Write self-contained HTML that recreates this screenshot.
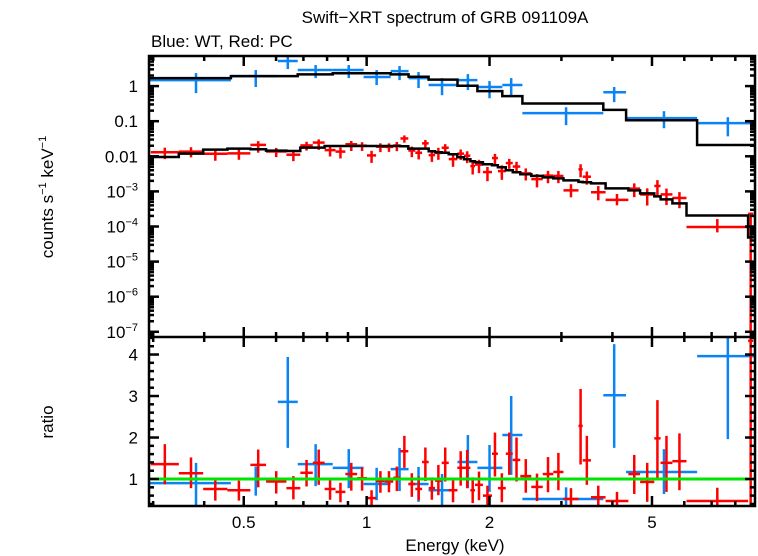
<!DOCTYPE html>
<html><head><meta charset="utf-8"><style>
html,body{margin:0;padding:0;background:#fff;}
svg{display:block;}
text{font-family:"Liberation Sans",sans-serif;fill:#000;}
</style></head><body>
<svg id="chart" width="758" height="556" viewBox="0 0 758 556" xmlns="http://www.w3.org/2000/svg">
<text x="445" y="23" font-size="17" text-anchor="middle">Swift−XRT spectrum of GRB 091109A</text>
<text x="151" y="47" font-size="17">Blue: WT, Red: PC</text>
<text transform="translate(53,197) rotate(-90)" font-size="17" text-anchor="middle">counts s<tspan font-size="11" dy="-7">−1</tspan><tspan dy="7"> keV</tspan><tspan font-size="11" dy="-7">−1</tspan></text>
<text transform="translate(53,422) rotate(-90)" font-size="17" text-anchor="middle">ratio</text>
<text x="455" y="551" font-size="17" text-anchor="middle">Energy (keV)</text>
<g id="marks"></g>
</svg>
<script>
// ---- data ----
// WT (blue) bins: energy edges (keV)
const wtLo = [0.293,0.465,0.606,0.678,0.826,0.983,1.145,1.267,1.418,1.669,1.868,2.150,2.407,3.80,4.32,6.45];
const wtHi = [0.465,0.606,0.678,0.826,0.983,1.145,1.267,1.418,1.669,1.868,2.150,2.407,3.80,4.32,6.45,9.04];
const wtCenter = [0.382,0.535,0.641,0.750,0.904,1.058,1.204,1.34,1.53,1.77,2.0,2.26,3.08,4.04,5.35,7.67];
const wtCounts = [1.48,1.93,5.18,2.87,2.87,1.81,2.68,1.69,1.07,1.48,0.94,1.07,0.17,0.67,0.122,0.088];
const wtCountsHi = [2.35,2.87,7.7,3.98,3.98,2.87,3.73,2.51,1.69,2.2,1.39,1.69,0.25,0.94,0.193,0.13];
const wtCountsLo = [0.63,0.94,3.06,1.69,1.69,1.07,1.48,0.88,0.55,0.77,0.45,0.55,0.077,0.35,0.063,0.037];
const wtModel = [1.69,1.93,1.93,2.16,2.31,2.31,2.16,1.84,1.53,1.02,0.72,0.52,0.32,0.21,0.107,0.021];
const wtRatio = [0.9,1.0,2.86,1.36,1.27,0.88,1.24,0.88,0.73,1.41,1.27,2.06,0.52,3.02,1.17,3.96];
const wtRatioHi = [1.39,1.3,3.94,1.84,1.72,1.27,1.75,1.29,1.12,2.06,1.82,3.0,0.8,4.25,1.72,4.6];
const wtRatioLo = [0.3,0.6,1.75,0.83,0.78,0.49,0.71,0.45,0.37,0.78,0.69,1.1,0.3,1.75,0.64,1.96];
// PC (red) bins
const pcEdges = [0.296,0.3467,0.3977,0.456,0.519,0.567,0.636,0.688,0.738,0.789,0.839,0.887,0.948,1.002,1.055,1.107,1.162,1.210,1.265,1.316,1.367,1.419,1.471,1.527,1.589,1.668,1.732,1.795,1.843,1.927,2.028,2.097,2.192,2.280,2.379,2.531,2.700,2.866,3.035,3.303,3.383,3.544,3.849,4.377,4.677,5.066,5.248,5.61,6.075,8.60,8.85];
const pcCounts = [0.0130,0.0136,0.0118,0.0121,0.0212,0.0137,0.0111,0.0204,0.0246,0.0150,0.0136,0.0220,0.0201,0.0106,0.0187,0.0185,0.0203,0.0322,0.0146,0.0126,0.0234,0.0108,0.0125,0.0175,0.00832,0.0119,0.0104,0.00526,0.00580,0.00355,0.00890,0.00378,0.00641,0.00510,0.00327,0.00224,0.00281,0.00275,0.00107,0.00426,0.00262,0.000946,0.000573,0.00120,0.000816,0.00143,0.00082,0.000649,0.0000968,0.00023];
const pcModel = [0.00955,0.01194,0.01553,0.0166,0.01585,0.01455,0.01417,0.01773,0.01773,0.01968,0.01968,0.01968,0.01968,0.01968,0.01968,0.01968,0.01968,0.0193,0.0166,0.0166,0.0166,0.0139,0.0130,0.01259,0.0114,0.00936,0.0082,0.0072,0.00674,0.00591,0.00553,0.00485,0.00398,0.00349,0.00306,0.00277,0.00251,0.00235,0.00206,0.00187,0.00181,0.00169,0.00122,0.00107,0.000877,0.00072,0.00059,0.000454,0.000206,0.0000485];
const pcRatio = [1.36,1.14,0.76,0.73,1.34,0.94,0.78,1.15,1.39,0.76,0.69,1.12,1.02,0.54,0.95,0.94,1.03,1.67,0.88,0.76,1.41,0.78,0.96,1.39,0.73,1.27,1.27,0.73,0.86,0.60,1.61,0.78,1.61,1.46,1.07,0.81,1.12,1.17,0.52,2.28,1.45,0.56,0.47,1.12,0.93,1.98,1.39,1.43,0.47,4.33];
const pcRatioHi = [1.84,1.52,1.02,0.96,1.71,1.19,1.07,1.46,1.71,1.0,0.91,1.39,1.28,0.73,1.19,1.19,1.30,2.04,1.14,1.06,1.76,1.04,1.34,1.76,0.98,1.67,1.70,1.04,1.18,0.84,2.12,1.14,2.12,2.0,1.48,1.13,1.53,1.63,0.78,3.17,2.04,0.84,0.69,1.58,1.39,2.90,2.04,2.10,0.79,4.6];
const pcRatioLo = [0.87,0.78,0.48,0.48,0.80,0.65,0.51,0.82,0.86,0.50,0.44,0.72,0.72,0.33,0.67,0.68,0.71,1.27,0.57,0.49,0.95,0.50,0.61,0.94,0.44,0.84,0.78,0.42,0.49,0.33,1.06,0.44,1.10,0.94,0.67,0.47,0.68,0.73,0.33,1.35,0.86,0.33,0.33,0.64,0.45,1.03,0.69,0.73,0.33,0.001];
const xTicksMajor = [0.5,1,2,5];
const xTickLabels = ["0.5","1","2","5"];
const xTicksMinor = [0.3,0.4,0.6,0.7,0.8,0.9,3,4,6,7,8];
const yTopExp = [0,-1,-2,-3,-4,-5,-6,-7];
const yTopLabels = ["1","0.1","0.01","10","10","10","10","10"];
const yRatioTicks = [1,2,3,4];

// ---- axes ----
const L=149, R=755, T=56, M=337, B=506;
const xMin=0.293, xMax=8.94;
const topMax=Math.log10(7.2), topMin=Math.log10(7.2)-(M-T)/35.1;
const rMin=0.35, rMax=0.35+(B-M)/41.5;
function X(e){return L+(Math.log10(e)-Math.log10(xMin))/(Math.log10(xMax)-Math.log10(xMin))*(R-L);}
function YT(v){v=Math.max(v,1e-12);let y=T+(topMax-Math.log10(v))/(topMax-topMin)*(M-T);return Math.min(Math.max(y,T),M);}
function YR(r){let y=B-(r-rMin)/(rMax-rMin)*(B-M);return Math.min(Math.max(y,M),B);}

const NS="http://www.w3.org/2000/svg";
const g=document.getElementById('marks');
function el(tag,attrs,parent){const e=document.createElementNS(NS,tag);for(const k in attrs)e.setAttribute(k,attrs[k]);(parent||g).appendChild(e);return e;}
function line(x1,y1,x2,y2,c,w,p){return el('line',{x1:x1,y1:y1,x2:x2,y2:y2,stroke:c,'stroke-width':w},p);}

// groups
const gWT=el('g',{});


const gPC=el('g',{});


const gMod=el('g',{});


const gRat=el('g',{});



const BLUE='#0a84f5', RED='#ff0000';
// clip paths
const defs=el('defs',{});
const c1=el('clipPath',{id:'ctop'},defs);el('rect',{x:L,y:T,width:R-L,height:M-T},c1);
const c2=el('clipPath',{id:'cbot'},defs);el('rect',{x:L,y:M,width:R-L,height:B-M},c2);
gWT.setAttribute('clip-path','url(#ctop)');gPC.setAttribute('clip-path','url(#ctop)');gMod.setAttribute('clip-path','url(#ctop)');gRat.setAttribute('clip-path','url(#cbot)');

// WT data top
for(let i=0;i<wtCounts.length;i++){
  const h=line(X(wtLo[i]),YT(wtCounts[i]),X(wtHi[i]),YT(wtCounts[i]),BLUE,2.5,gWT);
  
  
  const v=line(X(wtCenter[i]),YT(wtCountsHi[i]),X(wtCenter[i]),YT(wtCountsLo[i]),BLUE,2.5,gWT);
  
  
}
// PC data top
for(let i=0;i<pcCounts.length;i++){
  const lo=pcEdges[i],hi=Math.min(pcEdges[i+1],xMax);const c=Math.sqrt(lo*hi);
  const h=line(X(lo),YT(pcCounts[i]),X(hi),YT(pcCounts[i]),RED,2.5,gPC);
  
  
  const v=line(X(c),YT(pcCounts[i]*pcRatioHi[i]/pcRatio[i]),X(c),YT(pcCounts[i]*pcRatioLo[i]/pcRatio[i]),RED,2.5,gPC);
  
  
}
// model steps
function steps(los,his,vals){let d='';for(let i=0;i<vals.length;i++){const y=YT(vals[i]);d+=(i===0?'M':'L')+X(los[i]).toFixed(1)+','+y.toFixed(1)+'L'+X(his[i]).toFixed(1)+','+y.toFixed(1);}return d;}
const mw=el('path',{d:steps(wtLo,wtHi,wtModel),fill:'none',stroke:'#000','stroke-width':2.5},gMod);


const mp=el('path',{d:steps(pcEdges.slice(0,-1),pcEdges.slice(1).map(e=>Math.min(e,xMax)),pcModel),fill:'none',stroke:'#000','stroke-width':2.5},gMod);



// ratio panel
for(let i=0;i<wtRatio.length;i++){
  const h=line(X(wtLo[i]),YR(wtRatio[i]),X(wtHi[i]),YR(wtRatio[i]),BLUE,2.5,gRat);
  
  
  const v=line(X(wtCenter[i]),YR(wtRatioHi[i]),X(wtCenter[i]),YR(wtRatioLo[i]),BLUE,2.5,gRat);
  
  
}
for(let i=0;i<pcRatio.length;i++){
  const lo=pcEdges[i],hi=Math.min(pcEdges[i+1],xMax);const c=Math.sqrt(lo*hi);
  const h=line(X(lo),YR(pcRatio[i]),X(hi),YR(pcRatio[i]),RED,2.5,gRat);
  
  
  const v=line(X(c),YR(pcRatioHi[i]),X(c),YR(pcRatioLo[i]),RED,2.5,gRat);
  
  
}
const gl=line(L,YR(1),R,YR(1),'#00e600',3,gRat);



// frames and ticks
const gAx=el('g',{});


el('rect',{x:L,y:T,width:R-L,height:B-T,fill:'none',stroke:'#000','stroke-width':2.5},gAx);
line(L,M,R,M,'#000',2.5,gAx);
function xt(e,len){const x=X(e);[[T,1],[M,-1],[M,1],[B,-1]].forEach(([y,s])=>line(x,y,x,y+s*len,'#000',2.5,gAx));}
xTicksMajor.forEach(e=>xt(e,10));
xTicksMinor.forEach(e=>xt(e,5));
xTicksMajor.forEach((e,i)=>{const t=el('text',{x:X(e),y:528,'font-size':17,'text-anchor':'middle'},gAx);t.textContent=xTickLabels[i];

});
// top y ticks
for(let d=1;d>=-8;d--){for(let m=1;m<10;m++){const v=m*Math.pow(10,d);const y=YT(v);if(y<=T||y>=M)continue;const len=m===1?10:5;line(L,y,L+len,y,'#000',2.5,gAx);line(R,y,R-len,y,'#000',2.5,gAx);}}
yTopExp.forEach((p,i)=>{const y=YT(Math.pow(10,p))+6;const t=el('text',{x:138,y:y,'font-size':17,'text-anchor':'end'},gAx);


if(p>=-2){t.textContent=yTopLabels[i];}else{t.textContent=yTopLabels[i];const s=el('tspan',{'font-size':11,dy:-7},t);s.textContent='−'+(-p);}
});
// ratio ticks
for(let r=0.4;r<rMax;r+=0.2){const y=YR(r);if(y<=M||y>=B)continue;const maj=Math.abs(r-Math.round(r))<0.01;const len=maj?10:5;line(L,y,L+len,y,'#000',2.5,gAx);line(R,y,R-len,y,'#000',2.5,gAx);}
yRatioTicks.forEach(r=>{const t=el('text',{x:138,y:YR(r)+6,'font-size':17,'text-anchor':'end'},gAx);t.textContent=String(r);

});
</script>
</body></html>
